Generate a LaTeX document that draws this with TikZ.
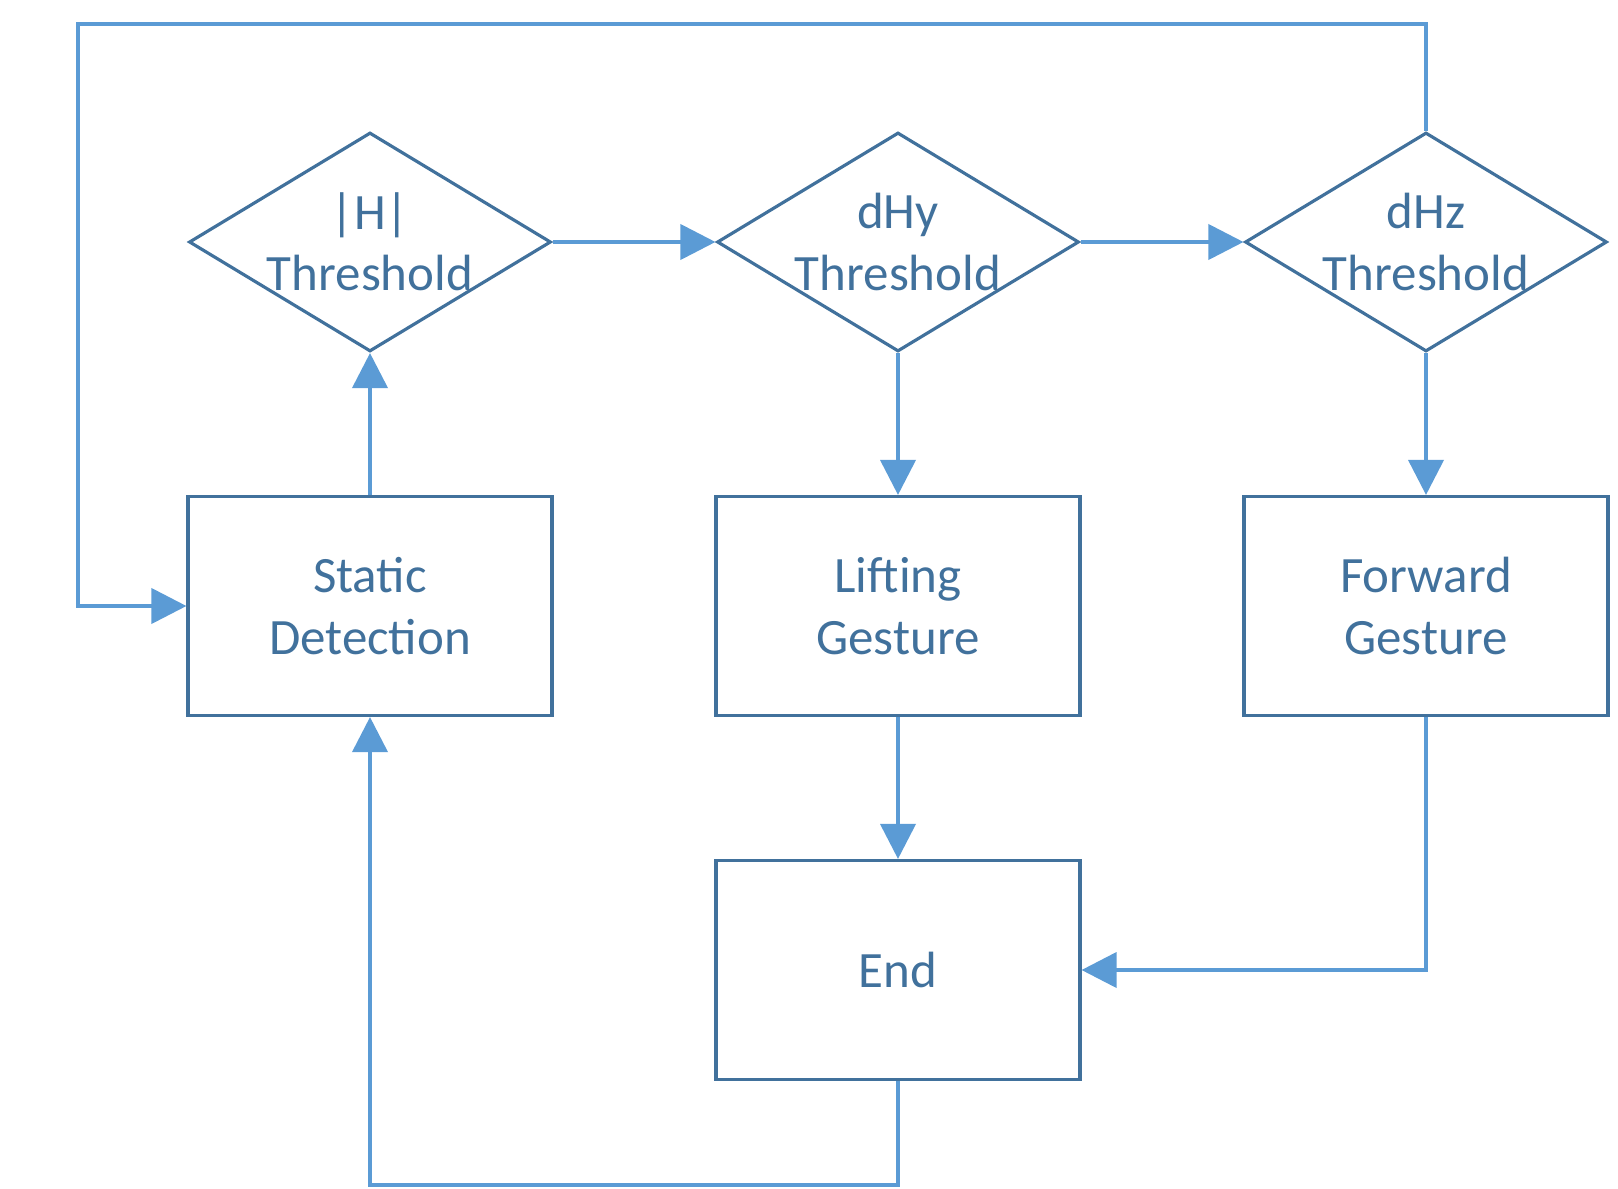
\documentclass[tikz,border=0pt]{standalone}
\usepackage{fontspec}
\setmainfont{Carlito}
\usetikzlibrary{shapes.geometric,arrows.meta}

\definecolor{shapeblue}{HTML}{41719C}
\definecolor{lineblue}{HTML}{5B9BD5}

\begin{document}
\begin{tikzpicture}[x=0.02cm, y=-0.02cm,
    box/.style={draw=shapeblue, line width=1.8pt, rectangle, minimum width=7.28cm, minimum height=4.38cm, inner sep=0pt, align=center, text=shapeblue, font=\fontsize{29}{35}\selectfont},
    test/.style={draw=shapeblue, line width=1.8pt, diamond, minimum width=7.24cm, minimum height=4.38cm, inner sep=-20pt, align=center, text=shapeblue, font=\fontsize{29}{35}\selectfont},
    flow/.style={draw=lineblue, line width=2.2pt, -{Triangle[length=0.7cm,width=0.7cm]}}]

        \useasboundingbox (0,0) rectangle (1618,1189) ;

        \node [test] (habs) at (370,242) {|H|\\Threshold} ;
        \node [test] (dhy) at (898,242) {dHy\\Threshold} ;
        \node [test] (dhz) at (1426,242) {dHz\\Threshold} ;

        \node [box] (static) at (370,606) {Static\\Detection} ;
        \node [box] (lift) at (898,606) {Lifting\\Gesture} ;
        \node [box] (fwd) at (1426,606) {Forward\\Gesture} ;
        \node [box] (end) at (898,970) {End} ;

        \coordinate (topcorner) at (78,24) ;
        \coordinate (botcorner) at (370,1185) ;

        \draw [flow] (habs.east) to (dhy.west) ;
        \draw [flow] (dhy.east) to (dhz.west) ;
        \draw [flow] (static.north) to (habs.south) ;
        \draw [flow] (dhy.south) to (lift.north) ;
        \draw [flow] (dhz.south) to (fwd.north) ;
        \draw [flow] (lift.south) to (end.north) ;
        \draw [flow] (fwd.south) |- (end.east) ;
        \draw [flow] (dhz.north) |- (topcorner) |- (static.west) ;
        \draw [flow] (end.south) |- (botcorner) -- (static.south) ;

      \end{tikzpicture}
\end{document}
